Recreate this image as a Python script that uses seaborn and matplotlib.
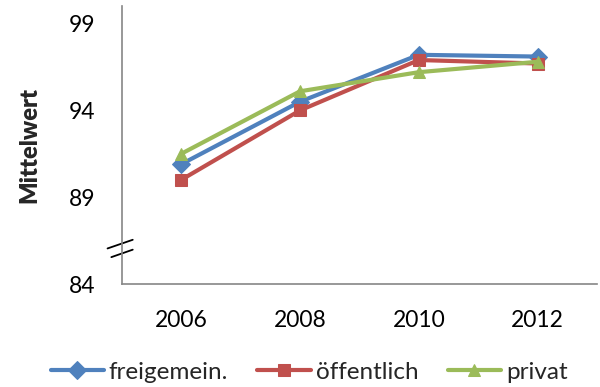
import matplotlib
matplotlib.use("Agg")
import matplotlib.pyplot as plt
import matplotlib.transforms as mtransforms
import seaborn as sns
import pandas as pd

years = ["2006", "2008", "2010", "2012"]
freigemein = [90.9, 94.5, 97.2, 97.1]
oeffentlich = [90.0, 94.0, 96.9, 96.7]
privat = [91.5, 95.1, 96.2, 96.8]
series_names = ["freigemein.", "öffentlich", "privat"]
y_ticks = [84, 89, 94, 99]

df = pd.DataFrame({
    "Jahr": years * 3,
    "Mittelwert": freigemein + oeffentlich + privat,
    "Sektor": [series_names[0]] * 4 + [series_names[1]] * 4 + [series_names[2]] * 4,
})

sns.set_theme(style="white")
plt.rcParams["font.family"] = ["Lato", "DejaVu Sans"]

colors = ["#4F81BD", "#C0504D", "#9BBB59"]
markers = ["D", "s", "^"]
msizes = [10, 11, 12]

fig = plt.figure(figsize=(6.0, 3.87), dpi=100)
ax = fig.add_axes([0.203, 0.266, 0.792, 0.718])

for name, col, mk, ms in zip(series_names, colors, markers, msizes):
    sub = df[df["Sektor"] == name]
    sns.lineplot(data=sub, x="Jahr", y="Mittelwert", ax=ax, color=col,
                 marker=mk, markersize=ms, markeredgecolor=col,
                 linewidth=3, label=name, sort=False)

ax.set_xlim(-0.5, 3.5)
ax.set_ylim(84, 100)
ax.set_yticks(y_ticks)
ax.set_xlabel("")
ax.set_ylabel("Mittelwert", fontsize=17, fontweight="heavy")
ax.yaxis.set_label_coords(-0.172, 0.5)
ax.tick_params(axis="both", length=0, labelsize=16.5, colors="black")
ax.tick_params(axis="y", pad=19)
ax.tick_params(axis="x", pad=19)

for side in ["top", "right"]:
    ax.spines[side].set_visible(False)
for side in ["left", "bottom"]:
    ax.spines[side].set_color("#868686")
    ax.spines[side].set_linewidth(1.2)

# axis break symbol on the value axis
trans = mtransforms.blended_transform_factory(ax.transAxes, ax.transData)
ax.plot([-0.030, 0.023], [86.05, 86.55], color="black", lw=1.3,
        transform=trans, clip_on=False)
ax.plot([-0.022, 0.023], [85.55, 85.98], color="black", lw=1.3,
        transform=trans, clip_on=False)

ax.get_legend().remove()
handles, labels = ax.get_legend_handles_labels()
for h in handles:
    h.set_markersize(9)
fig.legend(handles, labels, loc="lower center", ncol=3, frameon=False,
           bbox_to_anchor=(0.515, -0.045), fontsize=17.5, handlelength=2.2,
           handletextpad=0.2, columnspacing=1.2)

fig.savefig("out.png", dpi=100)
